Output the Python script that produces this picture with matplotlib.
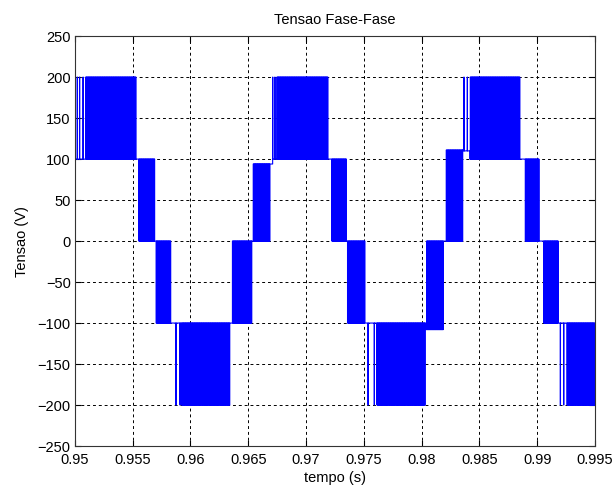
import numpy as np
import matplotlib
matplotlib.use("Agg")
import matplotlib.pyplot as plt

plt.rcParams['font.family'] = ['Liberation Sans', 'DejaVu Sans']

# Densely switched bands of the line-to-line voltage: time span and the two levels (V)
band_start = [0.9509, 0.9555, 0.9570, 0.9592, 0.9636, 0.9654, 0.96745, 0.9722,
              0.97356, 0.9761, 0.9804, 0.9821, 0.98418, 0.98894, 0.99053, 0.99255]
band_end = [0.9553, 0.9569, 0.9583, 0.9634, 0.9653, 0.9669, 0.97192, 0.97351,
            0.9751, 0.9803, 0.9819, 0.98355, 0.98851, 0.99015, 0.99182, 0.9950]
band_low = [100, 0, -100, -200, -100, 0, 100, 0,
            -100, -200, -108, 0, 100, 0, -100, -200]
band_high = [200, 100, 0, -100, 0, 94, 200, 100,
             0, -100, 0, 111, 200, 100, 0, -100]

# Isolated pulses just before each ±200 V band: (time, base level, peak level)
pulse_time = [0.9502, 0.9504, 0.9507, 0.95874, 0.95909, 0.96711, 0.96730,
              0.97536, 0.97590, 0.98366, 0.98395, 0.99200, 0.99229]
pulse_base = [100, 100, 100, -100, -100, 100, 100,
              -100, -100, 110, 110, -100, -100]
pulse_peak = [200, 200, 200, -200, -200, 200, 200,
              -200, -200, 200, 200, -200, -200]

pwm_period = 6e-5
pulse_width = 1.5e-5

# Assemble the switched waveform as a stepped trace
events = []
for t0, t1, lo, hi in zip(band_start, band_end, band_low, band_high):
    events.append(["band", t0, t1, lo, hi])
for tp, b, p in zip(pulse_time, pulse_base, pulse_peak):
    events.append(["pulse", tp, tp + pulse_width, b, p])
events.sort(key=lambda e: e[1])

ts = [0.9500]
vs = [0.0]


def step_to(t, v):
    ts.extend([t, t])
    vs.extend([vs[-1], v])


step_to(0.9500, 100.0)
for i, (kind, t0, t1, lo, hi) in enumerate(events):
    if kind == "pulse":
        step_to(t0, lo)
        step_to(t0, hi)
        step_to(t1, lo)
        continue
    cur = vs[-1]
    a, b = (lo, hi) if abs(cur - lo) <= abs(cur - hi) else (hi, lo)
    step_to(t0, a)
    level = a
    for e in np.arange(t0 + pwm_period / 2, t1, pwm_period / 2):
        level = b if level == a else a
        step_to(e, level)
    # settle on the level shared with whatever follows
    if i + 1 < len(events):
        nlo, nhi = events[i + 1][3], events[i + 1][4]
        rest = min((lo, hi), key=lambda L: min(abs(L - nlo), abs(L - nhi)))
    else:
        rest = level
    step_to(t1, rest)

fig = plt.figure(figsize=(6.14, 4.88), dpi=100)
ax = fig.add_axes([0.122, 0.086, 0.847, 0.840])
ax.plot(ts, vs, color='#0000ff', linewidth=0.8)

ax.set_xlim(0.95, 0.995)
ax.set_ylim(-250, 250)
ax.set_xticks(np.arange(0.95, 0.9951, 0.005))
ax.set_xticklabels(['0.95', '0.955', '0.96', '0.965', '0.97', '0.975',
                    '0.98', '0.985', '0.99', '0.995'])
ax.set_yticks(np.arange(-250, 251, 50))
ax.tick_params(direction='in', length=4, width=0.8, labelsize=10.5,
               top=True, right=True)
ax.tick_params(axis='x', pad=5)
ax.tick_params(axis='y', pad=3)
ax.grid(True, color='black', linestyle=(0, (3, 3)), linewidth=0.7)
for s in ax.spines.values():
    s.set_linewidth(0.8)
    s.set_color('#333333')

ax.set_title('Tensao Fase-Fase', fontsize=10.5, pad=9)
ax.set_xlabel('tempo (s)', fontsize=10.5, labelpad=3)
ax.set_ylabel('Tensao (V)', fontsize=10.5, labelpad=6)

fig.savefig('out.png', dpi=100)
